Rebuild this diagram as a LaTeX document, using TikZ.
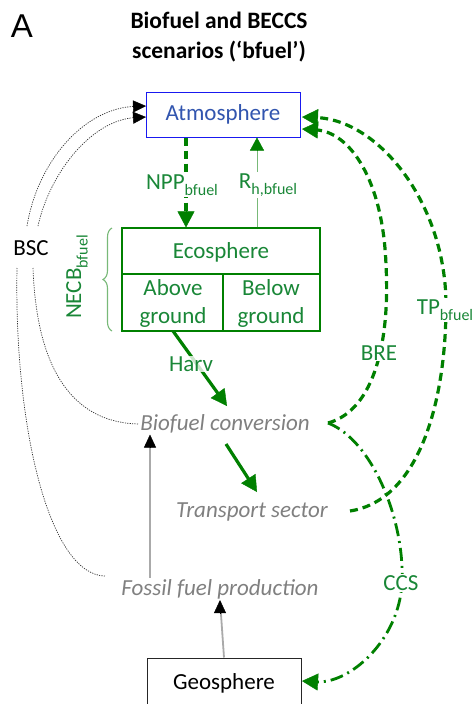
\documentclass[tikz,border=0pt]{standalone}
\usepackage{fontspec}
\setmainfont{Carlito}
\setsansfont{Liberation Sans}
\usetikzlibrary{arrows.meta,decorations.pathreplacing,calc}
\definecolor{gr}{RGB}{0,128,0}
\definecolor{grt}{RGB}{25,135,55}
\definecolor{grl}{RGB}{120,185,120}
\definecolor{atmt}{RGB}{50,85,175}
\definecolor{atmb}{RGB}{25,25,240}
\definecolor{gtx}{RGB}{128,128,128}
\definecolor{gln}{RGB}{170,170,170}
\newcommand\sbs[1]{\raisebox{-0.28em}{\fontsize{16}{16}\selectfont #1}}
\tikzset{
  txt/.style={font=\fontsize{23}{28}\selectfont, inner sep=1pt},
  gtxt/.style={txt, text=grt},
  itx/.style={txt, text=gtx, font=\fontsize{23}{28}\selectfont\itshape},
  boxnode/.style={draw, line width=1pt, minimum width=154pt, inner sep=0pt},
  gtipo/.style={draw=gr, fill=gr, line width=0.4pt, solid, -{Triangle[length=16pt,width=17pt]}},
  stipo/.style={draw=gr, fill=gr, line width=0.4pt, solid, -{Triangle[length=13pt,width=14pt]}},
  btipo/.style={draw=black, fill=black, line width=0.4pt, solid, -{Triangle[length=13pt,width=12pt]}},
  gdash/.style={draw=gr, line width=3.2pt, dash pattern=on 8pt off 5pt, shorten >=14pt},
  gdd/.style={draw=gr, line width=2.8pt, dash pattern=on 13pt off 5pt on 2pt off 5pt, shorten >=14pt},
  gsolid/.style={draw=gr, line width=3.2pt, shorten >=14pt},
  bdot/.style={draw=black!80, line width=0.7pt, dash pattern=on 1.2pt off 1.2pt},
  gray arr/.style={draw=gln, line width=1.8pt, shorten >=11pt},
  lbl/.style={gtxt, fill=white},
}
\begin{document}
\begin{tikzpicture}[x=1pt,y=-1pt]
\useasboundingbox[fill=white] (0,0) rectangle (475,704);

% headings
\node[font=\fontsize{33}{33}\sffamily, inner sep=0pt] (A) at (22,26) {A};
\node[font=\fontsize{23.5}{30}\selectfont\bfseries, align=center, inner sep=0pt] (title) at (219,37) {Biofuel and BECCS\\scenarios (‘bfuel’)};

% boxes
\node[boxnode, draw=atmb, text=atmt, minimum height=45pt, font=\fontsize{23}{28}\selectfont] (atm) at (223,114.5) {Atmosphere};
\node[draw=gr, line width=1.2pt, minimum width=198pt, minimum height=103pt, inner sep=0pt] (eco) at (221,279.5) {};
\node[boxnode, draw=black!85, minimum height=50pt, font=\fontsize{23}{28}\selectfont] (geo) at (224,683) {Geosphere};
\draw[gr, line width=1.2pt] (122,274) -- (320,274);
\draw[gr, line width=1.2pt] (223,274) -- (223,331);
\node[gtxt] (ecot) at (221,252) {Ecosphere};
\node[gtxt, align=center] (above) at (173,303) {Above\\ground};
\node[gtxt, align=center] (below) at (271,303) {Below\\ground};

% process labels
\node[itx] (bc) at (225,424) {Biofuel conversion};
\node[itx] (ts) at (252,512) {Transport sector};
\node[itx] (ff) at (220,589) {Fossil fuel production};
\node[txt] (bsc) at (31,248) {BSC};

% brace + NECB
\draw[grl, line width=1.1pt, decorate, decoration={brace, amplitude=9pt, raise=0pt}] (112,331) -- (112,228);
\node[gtxt, rotate=90] (necb) at (77,277) {NECB\sbs{bfuel}};

% coordinates
\coordinate (nx) at (186,0);
\coordinate (rx) at (257,0);
\coordinate (fx) at (150,0);
\coordinate (j) at (328,423);
\coordinate (atmA) at (302,117);
\coordinate (atmB) at (302,129);
\coordinate (geoR) at (302,681);
\coordinate (ecoB) at (173,331);
\coordinate (bcT) at (227,406);
\coordinate (bcB) at (226,444);
\coordinate (tsT) at (257,492);
\coordinate (tsR) at (350,511);
\coordinate (atmL1) at (146,106);
\coordinate (atmL2) at (146,117);

% NPP and Rh
\draw[gdash] (atm.south -| nx) -- (eco.north -| nx);
\draw[gtipo] ($(eco.north -| nx)+(0,-16)$) -- (eco.north -| nx);
\node[lbl] (npp) at (182,185) {NPP\sbs{bfuel}};
\draw[grl, line width=1pt] (eco.north -| rx) -- ($(atm.south -| rx)+(0,12)$);
\draw[stipo] ($(atm.south -| rx)+(0,13)$) -- (atm.south -| rx);
\node[lbl] (rh) at (268,185) {R\sbs{h,bfuel}};

% Harv
\draw[gsolid] (ecoB) -- (bcT);
\draw[gtipo] ($(bcT)!16pt!(ecoB)$) -- (bcT);
\node[gtxt, fill=white, fill opacity=0.8, text opacity=1] (harv) at (191,364) {Harv};
\draw[gsolid] (bcB) -- (tsT);
\draw[gtipo] ($(tsT)!16pt!(bcB)$) -- (tsT);

% gray vertical arrows
\draw[gray arr] (ff.north -| fx) -- (bc.south -| fx);
\draw[btipo] ($(bc.south -| fx)+(0,13)$) -- (bc.south -| fx);
\draw[gray arr] (geo.north) -- (ff.south);
\draw[btipo] ($(ff.south)+(0,13)$) -- (ff.south);

% BRE, TP, CCS
\draw[gdash] (j) .. controls (375,410) and (390,340) .. (386,265) .. controls (383,180) and (350,132) .. (atmB);
\draw[gtipo] ($(atmB)!16pt!(350,132)$) -- (atmB);
\node[lbl] (bre) at (379,353) {BRE};
\draw[gdash] (tsR) .. controls (420,500) and (446,400) .. (446,305) .. controls (446,205) and (380,120) .. (atmA);
\draw[gtipo] ($(atmA)!16pt!(380,120)$) -- (atmA);
\node[lbl] (tp) at (445,310) {TP\sbs{bfuel}};
\draw[gdd] (j) .. controls (372,440) and (405,520) .. (402,583) .. controls (399,640) and (350,684) .. (geoR);
\draw[gtipo] ($(geoR)!16pt!(350,684)$) -- (geoR);
\node[lbl] (ccs) at (401,583) {CCS};

% BSC dotted
\draw[bdot, shorten >=11pt] (27,226) .. controls (38,160) and (85,108) .. (atmL1);
\draw[btipo] ($(atmL1)!13pt!(85,108)$) -- (atmL1);
\draw[bdot, shorten >=11pt] (38,226) .. controls (50,172) and (92,120) .. (atmL2);
\draw[btipo] ($(atmL2)!13pt!(92,120)$) -- (atmL2);
\draw[bdot] (17,268) .. controls (14,430) and (50,575) .. (105,576);
\draw[bdot] (33,268) .. controls (37,380) and (80,423) .. (bc.west);
\end{tikzpicture}
\end{document}
